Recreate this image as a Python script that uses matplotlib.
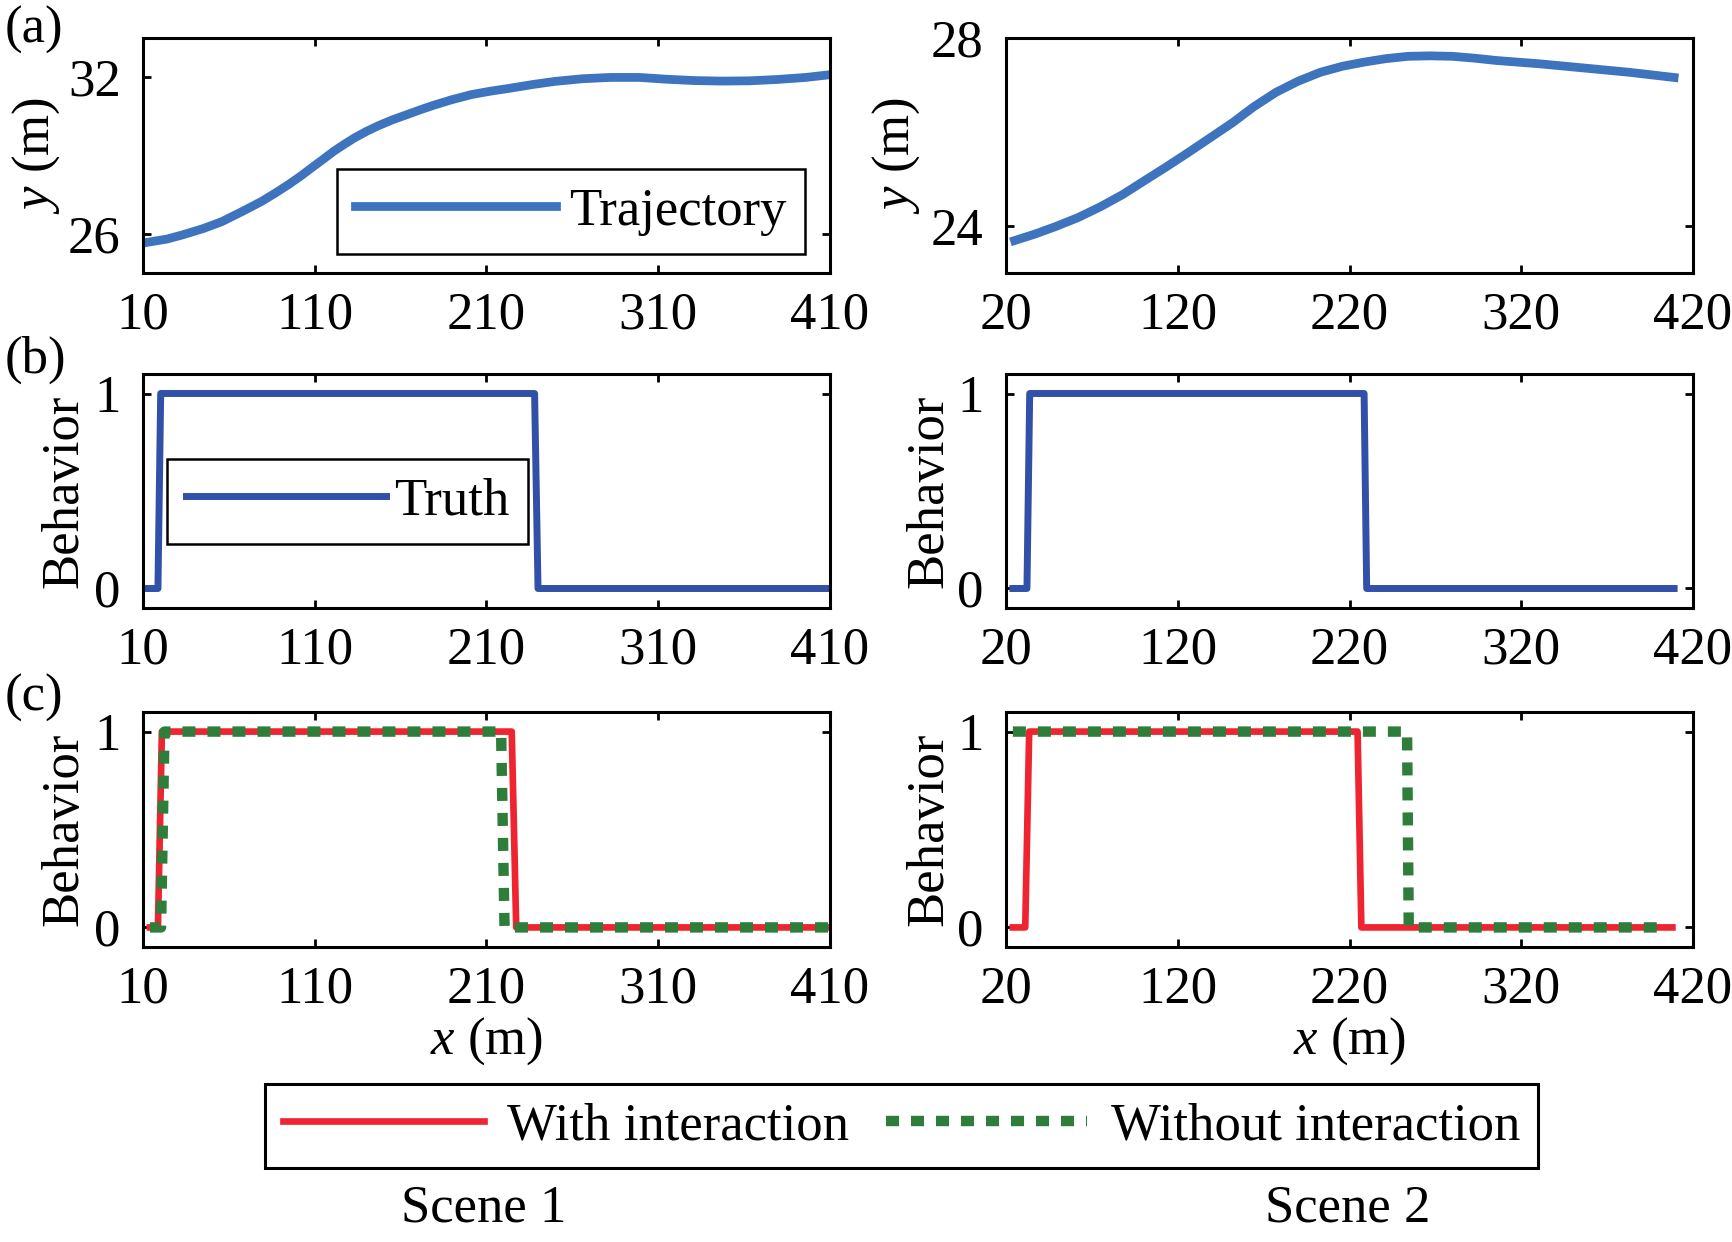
import matplotlib
matplotlib.use("Agg")
from matplotlib import pyplot as plt
from matplotlib.lines import Line2D

# ---- data ----
traj1_x = [13, 24, 33, 45, 56, 67, 79, 87, 95, 102, 108, 115, 121, 127, 133,
           140, 147, 155, 163, 171, 179, 190, 201, 212, 224, 237, 250, 266,
           282, 299, 315, 331, 347, 363, 379, 396, 408]
traj1_y = [25.68, 25.80, 25.96, 26.20, 26.47, 26.83, 27.24, 27.56, 27.90,
           28.22, 28.52, 28.86, 29.16, 29.42, 29.67, 29.92, 30.14, 30.36,
           30.55, 30.74, 30.92, 31.14, 31.33, 31.46, 31.58, 31.72, 31.84,
           31.94, 31.99, 31.99, 31.92, 31.87, 31.85, 31.86, 31.91, 31.99,
           32.08]

traj2_x = [25, 37, 49, 62, 75, 88, 100, 113, 126, 139, 152, 164, 177, 190,
           203, 216, 229, 241, 254, 267, 280, 293, 306, 331, 357, 383, 409]
traj2_y = [23.69, 23.83, 23.99, 24.18, 24.41, 24.67, 24.95, 25.25, 25.56,
           25.88, 26.2, 26.53, 26.84, 27.08, 27.27, 27.40, 27.49, 27.56,
           27.61, 27.62, 27.61, 27.57, 27.52, 27.45, 27.36, 27.27, 27.16]

truth1_x = [13, 18.7, 20.3, 238, 240, 410]
truth2_x = [24, 32.2, 33.8, 228.5, 230, 409]
step_y = [0, 0, 1, 1, 0, 0]

with1_x = [14, 18.7, 21, 224.7, 227.3, 410]
without1_x = [14, 20.5, 22.5, 218.5, 220.5, 410]
with2_x = [24, 31.2, 33.5, 224.7, 226.9, 408]
without2_x = [24, 253.5, 254.5, 405]
without2_y = [1, 1, 0, 0]

xticks1 = [10, 110, 210, 310, 410]
xticks2 = [20, 120, 220, 320, 420]

# ---- style ----
plt.rcParams['font.family'] = ['Liberation Serif', 'DejaVu Serif']
plt.rcParams['font.size'] = 38
plt.rcParams['mathtext.fontset'] = 'custom'
plt.rcParams['mathtext.rm'] = 'Liberation Serif'
plt.rcParams['mathtext.it'] = 'Liberation Serif:italic'

c_traj = '#3d74bd'
c_truth = '#3150a8'
c_red = '#ee2531'
c_green = '#2e7d3a'
green_dash = (0, (1.25, 1.15))

W, H = 1732, 1242
fig = plt.figure(figsize=(W / 100, H / 100), dpi=100)

lefts = [143 / W, 1006 / W]
aw = 687 / W
rows = [(38, 273), (374, 608), (712, 947)]

axes = []
for top, bot in rows:
    r = []
    for l in lefts:
        ax = fig.add_axes([l, 1 - bot / H, aw, (bot - top) / H])
        for s in ax.spines.values():
            s.set_linewidth(2.2)
        ax.tick_params(direction='in', top=True, right=True, length=6,
                       width=2, pad=16)
        ax.tick_params(axis='x', pad=13)
        r.append(ax)
    axes.append(r)

# (a) trajectories
ax = axes[0][0]
ax.plot(traj1_x, traj1_y, color=c_traj, lw=6.3, label='Trajectory')
ax.set_ylim(24.5, 33.5)
ax.set_yticks([26, 32])
ax.legend(loc='center', bbox_to_anchor=(0.623, 0.26), fancybox=False,
          edgecolor='black', framealpha=1, handlelength=3.8,
          handletextpad=0.25, borderpad=0.35).get_frame().set_linewidth(1.8)
ax = axes[0][1]
ax.plot(traj2_x, traj2_y, color=c_traj, lw=6.3)
ax.set_ylim(23, 28)
ax.set_yticks([24, 28])
for ax, lx in zip(axes[0], [-0.156, -0.160]):
    ax.set_ylabel('$y$ (m)', va='center')
    ax.yaxis.set_label_coords(lx, 0.5)

# (b) truth
ax = axes[1][0]
ax.plot(truth1_x, step_y, color=c_truth, lw=5, label='Truth')
ax.legend(loc='center', bbox_to_anchor=(0.298, 0.457), fancybox=False,
          edgecolor='black', framealpha=1, handlelength=3.8,
          handletextpad=0.15, borderpad=0.35).get_frame().set_linewidth(1.8)
axes[1][1].plot(truth2_x, step_y, color=c_truth, lw=5)

# (c) predictions
ax = axes[2][0]
ax.plot(with1_x, step_y, color=c_red, lw=4.8)
ax.plot(without1_x, step_y, color=c_green, lw=7.5, ls=green_dash,
        dash_capstyle='butt')
ax = axes[2][1]
ax.plot(with2_x, step_y, color=c_red, lw=4.8)
ax.plot(without2_x, without2_y, color=c_green, lw=7.5, ls=green_dash,
        dash_capstyle='butt')

for r in axes[1:]:
    for ax, lx in zip(r, [-0.115, -0.112]):
        ax.set_ylim(-0.1, 1.1)
        ax.set_yticks([0, 1])
        ax.set_ylabel('Behavior', va='center')
        ax.yaxis.set_label_coords(lx, 0.5)

for r in axes:
    r[0].set_xlim(10, 410)
    r[0].set_xticks(xticks1)
    r[1].set_xlim(20, 420)
    r[1].set_xticks(xticks2)

for ax in axes[2]:
    ax.set_xlabel('$x$ (m)', va='center')
    ax.xaxis.set_label_coords(0.5, -0.40)

# panel letters and scene names
for lab, yy in zip(['(a)', '(b)', '(c)'], [30, 360, 698]):
    fig.text(5 / W, 1 - yy / H, lab, ha='left', va='center')
fig.text(484 / W, 1 - 1209 / H, 'Scene 1', ha='center', va='center')
fig.text(1348 / W, 1 - 1209 / H, 'Scene 2', ha='center', va='center')

handles = [Line2D([], [], color=c_red, lw=4.8),
           Line2D([], [], color=c_green, lw=7.5, ls=green_dash,
                  dash_capstyle='butt')]
leg = fig.legend(handles, ['With interaction', 'Without interaction'],
                 loc='center', bbox_to_anchor=(0.5205, 1 - 1126 / H), ncol=2,
                 fancybox=False, edgecolor='black', framealpha=1,
                 handlelength=3.8, handletextpad=0.45, columnspacing=0.7,
                 borderpad=0.35)
leg.get_frame().set_linewidth(2.2)

fig.savefig('out.png', dpi=100)
